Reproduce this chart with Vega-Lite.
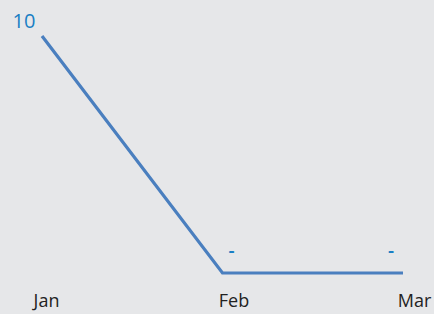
{
  "$schema": "https://vega.github.io/schema/vega-lite/v6.json",
  "width": 361,
  "height": 237,
  "autosize": {"type": "none"},
  "padding": {"left": 42, "top": 36, "right": 31, "bottom": 41},
  "background": "#e6e7e9",
  "config": {"view": {"stroke": null}, "font": "Open Sans"},
  "data": {"values": [
    {"month": "Jan", "value": 10, "label": "10"},
    {"month": "Feb", "value": 0, "label": "-"},
    {"month": "Mar", "value": 0, "label": "-"}
  ]},
  "encoding": {
    "x": {"field": "month", "type": "ordinal", "sort": null,
      "scale": {"type": "point", "padding": 0},
      "axis": {"title": null, "domain": false, "ticks": false, "grid": false,
        "labelAngle": 0, "labelFontSize": 18, "labelColor": "#222222", "labelPadding": 19,
        "labelOffset": {"condition": {"test": "datum.value === 'Jan'", "value": 4}, "value": 11}}},
    "y": {"field": "value", "type": "quantitative",
      "scale": {"domain": [0, 10], "nice": false, "zero": true},
      "axis": null}
  },
  "layer": [
    {"mark": {"type": "line", "color": "#4a7fbf", "strokeWidth": 3.2, "clip": false}},
    {"transform": [{"filter": "datum.month === 'Jan'"}],
     "mark": {"type": "text", "color": "#1a7fc4", "fontSize": 20, "dx": -18, "dy": -14},
     "encoding": {"text": {"field": "label"}}},
    {"transform": [{"filter": "datum.month === 'Feb'"}],
     "mark": {"type": "text", "color": "#1a7fc4", "fontSize": 19, "fontWeight": 600, "dx": 9, "dy": -22},
     "encoding": {"text": {"field": "label"}}},
    {"transform": [{"filter": "datum.month === 'Mar'"}],
     "mark": {"type": "text", "color": "#1a7fc4", "fontSize": 19, "fontWeight": 600, "dx": -12, "dy": -22},
     "encoding": {"text": {"field": "label"}}}
  ]
}
